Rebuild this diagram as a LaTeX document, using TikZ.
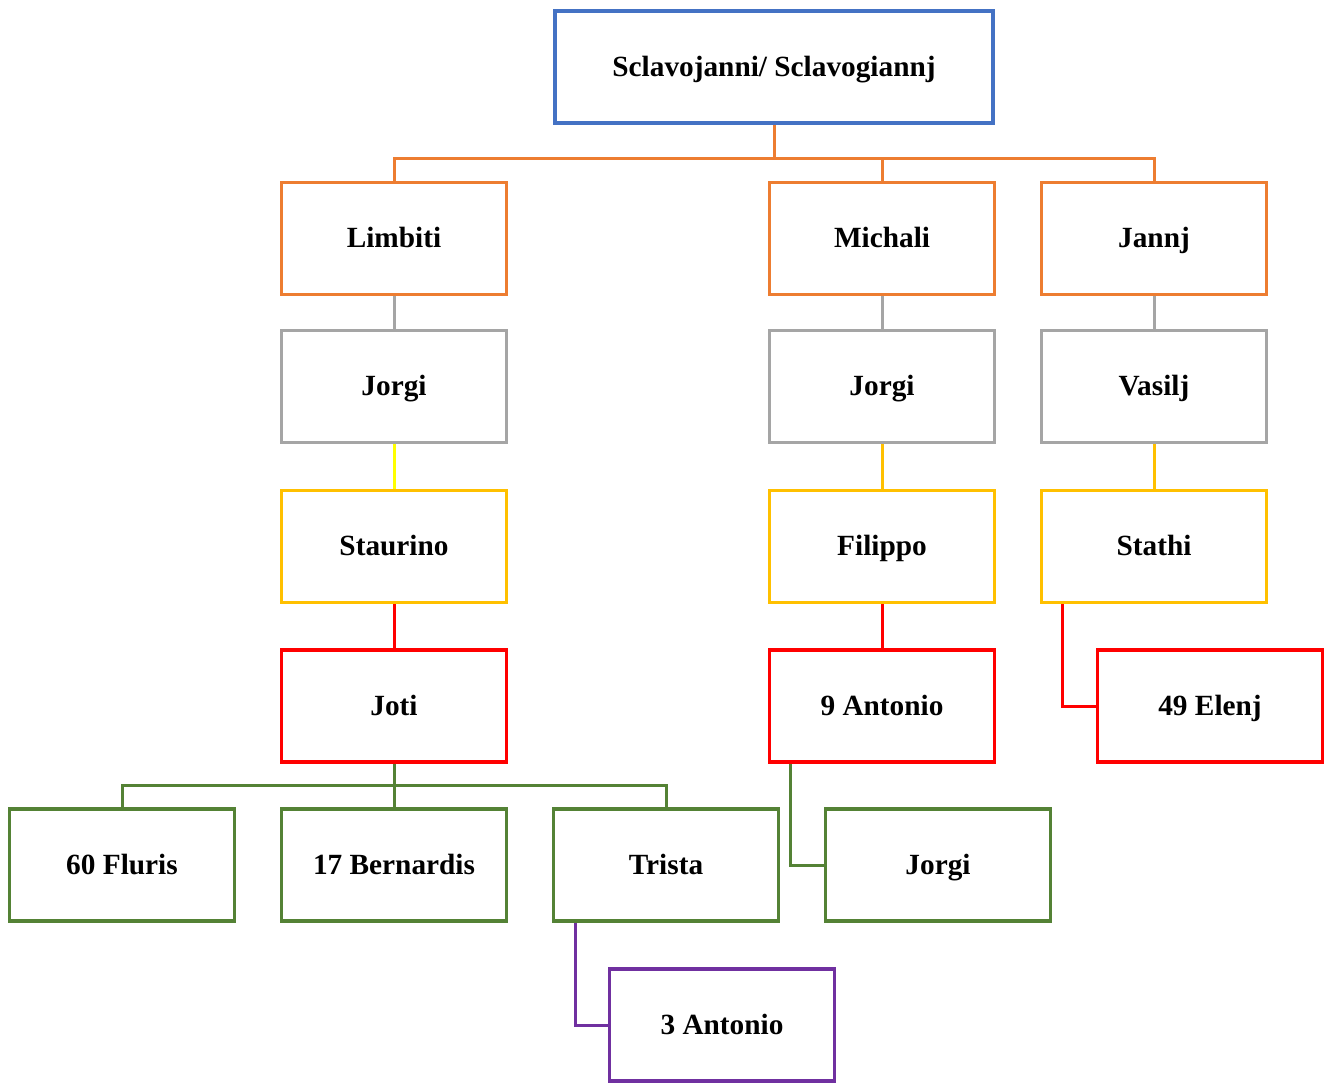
\documentclass[tikz,border=0pt]{standalone}
\usepackage{fontspec}
\setmainfont{Liberation Serif}
\definecolor{cblue}{HTML}{4472C4}
\definecolor{corange}{HTML}{ED7D31}
\definecolor{cgray}{HTML}{A5A5A5}
\definecolor{cgold}{HTML}{FFC000}
\definecolor{cyellow}{HTML}{FFFF00}
\definecolor{cred}{HTML}{FF0000}
\definecolor{cgreen}{HTML}{548235}
\definecolor{cpurple}{HTML}{7030A0}
\begin{document}
\begin{tikzpicture}[x=1pt,y=-1pt,
  box/.style={draw, line width=3.6pt, fill=white, minimum width=225pt, minimum height=112pt, inner sep=0pt,
    text height=23.5pt, text depth=4.6pt,
    font=\fontsize{29.3}{32}\selectfont\bfseries},
  link/.style={line width=3pt}]
\useasboundingbox (0,0) rectangle (1329,1082);
\coordinate (busA) at (774,158);
\coordinate (busB) at (394,785);
% nodes
\node[box, draw=cblue, minimum width=438pt] (top) at (774,67) {Sclavojanni/ Sclavogiannj};
\node[box, draw=corange] (limbiti) at (394,238.5) {Limbiti};
\node[box, draw=corange] (michali) at (882,238.5) {Michali};
\node[box, draw=corange] (jannj) at (1154,238.5) {Jannj};
\node[box, draw=cgray] (jorgiA) at (394,386.5) {Jorgi};
\node[box, draw=cgray] (jorgiB) at (882,386.5) {Jorgi};
\node[box, draw=cgray] (vasilj) at (1154,386.5) {Vasilj};
\node[box, draw=cgold] (staurino) at (394,546.5) {Staurino};
\node[box, draw=cgold] (filippo) at (882,546.5) {Filippo};
\node[box, draw=cgold] (stathi) at (1154,546.5) {Stathi};
\node[box, draw=cred] (joti) at (394,706) {Joti};
\node[box, draw=cred] (antnine) at (882,706) {9 Antonio};
\node[box, draw=cred] (elenj) at (1210,706) {49 Elenj};
\node[box, draw=cgreen] (fluris) at (122,865) {60 Fluris};
\node[box, draw=cgreen] (bernardis) at (394,865) {17 Bernardis};
\node[box, draw=cgreen] (trista) at (666,865) {Trista};
\node[box, draw=cgreen] (jorgiC) at (938,865) {Jorgi};
\node[box, draw=cpurple] (antthree) at (722,1025) {3 Antonio};
% connectors
\draw[link, corange] (top.south) -- (busA);
\draw[link, corange] (limbiti.north) -- (limbiti.north |- busA) -- (jannj.north |- busA) -- (jannj.north);
\draw[link, corange] (michali.north) -- (michali.north |- busA);
\draw[link, cgray] (limbiti.south) -- (jorgiA.north);
\draw[link, cgray] (michali.south) -- (jorgiB.north);
\draw[link, cgray] (jannj.south) -- (vasilj.north);
\draw[link, cyellow] (jorgiA.south) -- (staurino.north);
\draw[link, cgold] (jorgiB.south) -- (filippo.north);
\draw[link, cgold] (vasilj.south) -- (stathi.north);
\draw[link, cred] (staurino.south) -- (joti.north);
\draw[link, cred] (filippo.south) -- (antnine.north);
\draw[link, cred] ([xshift=23pt]stathi.south west) |- (elenj.west);
\draw[link, cgreen] (joti.south) -- (busB);
\draw[link, cgreen] (fluris.north) -- (fluris.north |- busB) -- (trista.north |- busB) -- (trista.north);
\draw[link, cgreen] (bernardis.north) -- (busB);
\draw[link, cgreen] ([xshift=23pt]antnine.south west) |- (jorgiC.west);
\draw[link, cpurple] ([xshift=24pt]trista.south west) |- (antthree.west);
\end{tikzpicture}
\end{document}
